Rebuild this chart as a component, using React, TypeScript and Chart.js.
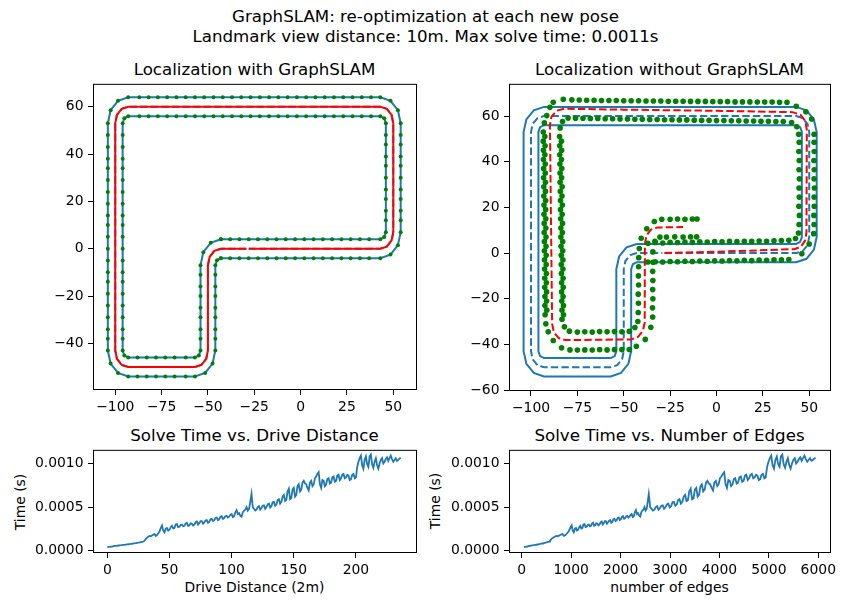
import React, { useEffect, useRef } from "react";
import { Chart, registerables } from "chart.js";
Chart.register(...registerables);

const FONT = "'DejaVu Sans', sans-serif";
const BLUE = "#1f77b4";
const RED = "#ff0000";
const GREEN = "#008000";

type P = [number, number];

// ---- Map data (true track boundaries = landmark rows) ----
const trueOuter: P[] = [
  [-43,-4],[-38,-4],[-33,-4],[-28,-4],[-23,-4],[-18,-4],[-13,-4],[-8,-4],[-3,-4],[2,-4],[7,-4],[12,-4],[17,-4],[22,-4],[27,-4],[32,-4],[37,-4],[43,-4],
  [48.5,-2.5],[52.5,1.5],[54,7],
  [54,12],[54,16],[54,21],[54,25],[54,30],[54,35],[54,39],[54,44],[54,48],[54,53],
  [52.5,58.5],[48.5,62.5],[43,64],
  [38,64],[33,64],[28,64],[23,64],[18,64],[13,64],[8,64],[3,64],[-2,64],[-7,64],[-12,64],[-17,64],[-22,64],[-27,64],[-32,64],[-37,64],[-42,64],[-47,64],[-52,64],[-57,64],[-62,64],[-67,64],[-72,64],[-77,64],[-82,64],[-87,64],[-93,64],
  [-98.5,62.5],[-102.5,58.5],[-104,53],
  [-104,48],[-104,43],[-104,38],[-104,34],[-104,29],[-104,24],[-104,19],[-104,14],[-104,10],[-104,5],[-104,0],[-104,-5],[-104,-10],[-104,-14],[-104,-19],[-104,-24],[-104,-29],[-104,-34],[-104,-38],[-104,-43],
  [-102.5,-48.5],[-98.5,-52.5],[-93,-54],
  [-88,-54],[-83,-54],[-78,-54],[-73,-54],[-68,-54],[-62,-54],[-57,-54],
  [-51.5,-52.5],[-47.5,-48.5],[-46,-43],
  [-46,-38],[-46,-34],[-46,-29],[-46,-25],[-46,-20],[-46,-16],[-46,-11],[-46,-7],
  [-45.1,-4.9],[-43,-4],
];

const trueInner: P[] = [
  [-43,4],[-38,4],[-33,4],[-28,4],[-23,4],[-18,4],[-13,4],[-8,4],[-3,4],[2,4],[7,4],[12,4],[17,4],[22,4],[27,4],[32,4],[37,4],[43,4],
  [45.1,4.9],[46,7],
  [46,12],[46,16],[46,21],[46,25],[46,30],[46,35],[46,39],[46,44],[46,48],[46,53],
  [45.1,55.1],[43,56],
  [38,56],[33,56],[28,56],[23,56],[18,56],[13,56],[8,56],[3,56],[-2,56],[-7,56],[-12,56],[-17,56],[-22,56],[-27,56],[-32,56],[-37,56],[-42,56],[-47,56],[-52,56],[-57,56],[-62,56],[-67,56],[-72,56],[-77,56],[-82,56],[-87,56],[-93,56],
  [-95.1,55.1],[-96,53],
  [-96,48],[-96,43],[-96,38],[-96,34],[-96,29],[-96,24],[-96,19],[-96,14],[-96,10],[-96,5],[-96,0],[-96,-5],[-96,-10],[-96,-14],[-96,-19],[-96,-24],[-96,-29],[-96,-34],[-96,-38],[-96,-43],
  [-95.1,-45.1],[-93,-46],
  [-88,-46],[-83,-46],[-78,-46],[-73,-46],[-68,-46],[-62,-46],[-57,-46],
  [-54.9,-45.1],[-54,-43],
  [-54,-38],[-54,-34],[-54,-29],[-54,-25],[-54,-20],[-54,-16],[-54,-11],[-54,-7],
  [-52.5,-1.5],[-48.5,2.5],[-43,4],
];

const truePath: P[] = [
  [-28,0],[43,0],[46.5,0.9],[49.1,3.5],[50,7],[50,53],[49.1,56.5],[46.5,59.1],[43,60],
  [-93,60],[-96.5,59.1],[-99.1,56.5],[-100,53],[-100,-43],[-99.1,-46.5],[-96.5,-49.1],[-93,-50],
  [-57,-50],[-53.5,-49.1],[-50.9,-46.5],[-50,-43],[-50,-7],[-49.1,-3.5],[-46.5,-0.9],[-43,0],[-29.2,0],
];

// ---- Estimate without GraphSLAM (drifting odometry) ----
const estPathNoSlam: P[] = [
  [-28,0],[0,0.6],[42,1.7],[45.5,2.8],[47.8,5.5],[48.5,9],[48.7,54],[47.9,57.8],[45.2,60.6],[41,61.7],
  [0,62.3],[-50,62.8],[-82,63.2],[-86.3,62.3],[-89,59.6],[-89.8,56],[-88.6,-31],[-87.7,-34.6],[-85.1,-37.2],[-81.5,-38.1],
  [-46,-37.8],[-42.3,-36.7],[-39.7,-34.1],[-38.7,-30.5],[-38.6,4],[-37.8,7.6],[-35.4,10.3],[-32,11.2],[-18,11.4],
];

const estLandmarksNoSlam: P[] = [
  [-37,4.3],[-33,4.6],[-29,4.4],[-25,4.7],[-21,4.6],[-17,4.8],[-13,4.7],[-9,4.9],[-5,4.8],[-1,5.0],[3,4.9],[7,5.1],[11,5.0],[15,5.2],[19,5.1],[23,5.3],[27,5.2],[31,5.4],[35,5.5],[39,5.6],
  [42.6,6.4],[44.2,8.8],
  [44.5,12.5],[44.7,16.5],[44.4,20.5],[44.6,24.5],[44.5,28.5],[44.7,32.5],[44.5,36.5],[44.6,40.5],[44.4,44.5],[44.6,48.5],[44.3,52],
  [43.3,55.3],[40.5,57.2],
  [36,57.6],[32,57.6],[28,57.7],[24,57.7],[20,57.8],[16,57.8],[12,57.9],[8,57.9],[4,58.0],[0,58.0],[-4,58.1],[-8,58.1],[-12,58.2],[-16,58.3],[-20,58.3],[-24,58.4],[-28,58.4],[-32,58.5],[-36,58.5],[-40,58.6],[-44,58.6],[-48,58.7],[-52,58.7],[-56,58.8],[-60,58.8],[-64,58.9],[-68,58.9],[-72,59.0],[-76,59.0],[-80,59.1],
  [-83,57.6],[-84.3,54.8],
  [-84.6,51],[-84.5,47],[-84.5,43],[-84.4,39],[-84.3,35],[-84.3,31],[-84.2,27],[-84.1,23],[-84.1,19],[-84.0,15],[-83.9,11],[-83.9,7],[-83.8,3],[-83.7,-1],[-83.7,-5],[-83.6,-9],[-83.5,-13],[-83.5,-17],[-83.4,-21],[-83.3,-25],[-83.3,-29],
  [-83.6,49],[-83.5,45],[-83.6,41],[-83.4,37],[-83.5,33],[-83.2,29],[-83.3,25],[-83.1,21],[-83.2,17],[-83.0,13],[-83.1,9],[-82.9,5],[-82.9,1],[-82.8,-3],[-82.8,-7],[-82.7,-11],[-82.6,-15],[-82.7,-19],[-82.5,-23],[-82.5,-27],
  [-82,-32.3],[-79.3,-34.2],
  [-75,-34.6],[-71,-34.5],[-67,-34.6],[-63,-34.4],[-59,-34.5],[-55,-34.4],[-51,-34.5],[-47,-34.3],
  [-44,-32.6],[-42.4,-30],
  [-42.2,-26],[-42.1,-22],[-42.2,-18],[-42.0,-14],[-42.1,-10],[-42.0,-6],[-41.9,-2],[-41.6,2],
  [-40.6,6.5],[-37.6,10.6],[-33.5,13.8],[-29.5,14.8],
  [-25,14.8],[-21,14.9],[-17,14.8],[-13,14.9],[-10.5,14.9],
  [-37,-3.9],[-33,-3.8],[-29,-3.9],[-25,-3.7],[-21,-3.8],[-17,-3.6],[-13,-3.7],[-9,-3.5],[-5,-3.6],[-1,-3.4],[3,-3.5],[7,-3.3],[11,-3.4],[15,-3.2],[19,-3.3],[23,-3.1],[27,-3.2],[31,-3.0],[35,-3.0],[39,-2.8],
  [46,-0.3],[50,4],
  [52.4,8.5],[52.6,12.5],[52.5,16.5],[52.7,20.5],[52.6,24.5],[52.8,28.5],[52.6,32.5],[52.7,36.5],[52.5,40.5],[52.7,44.5],[52.6,48.5],[52.6,52],
  [51.3,58.7],[48.2,61.9],[43,64.3],
  [38,66.0],[34,66.0],[30,66.1],[26,66.1],[22,66.1],[18,66.2],[14,66.2],[10,66.2],[6,66.3],[2,66.3],[-2,66.3],[-6,66.4],[-10,66.4],[-14,66.4],[-18,66.5],[-22,66.5],[-26,66.5],[-30,66.6],[-34,66.6],[-38,66.6],[-42,66.7],[-46,66.7],[-50,66.7],[-54,66.8],[-58,66.8],[-62,66.8],[-66,66.9],[-70,66.9],[-74,67.0],[-78,67.1],[-82.6,67.3],
  [-88,66],[-89.8,63.8],[-91.5,60.2],[-92.8,57],
  [-93.4,53],[-93.4,49],[-93.3,45],[-93.3,41],[-93.2,37],[-93.2,33],[-93.1,29],[-93.1,25],[-93.0,21],[-93.0,17],[-92.9,13],[-92.9,9],[-92.8,5],[-92.8,1],[-92.7,-3],[-92.7,-7],[-92.6,-11],[-92.6,-15],[-92.5,-19],[-92.5,-23],[-92.4,-27],[-92.0,-31],
  [-92.5,51],[-92.4,47],[-92.5,43],[-92.3,39],[-92.3,35],[-92.2,31],[-92.2,27],[-92.1,23],[-92.1,19],[-92.0,15],[-92.0,11],[-91.9,7],[-91.9,3],[-91.8,-1],[-91.8,-5],[-91.7,-9],[-91.7,-13],[-91.6,-17],[-91.6,-21],[-91.5,-25],
  [-90.7,-34.5],[-88,-38.3],[-83.5,-41.5],
  [-79,-42.4],[-75,-42.5],[-71,-42.4],[-67,-42.5],[-63,-42.3],[-59,-42.4],[-55,-42.3],[-51,-42.3],[-47,-42.2],
  [-43.2,-40.8],[-38.4,-37.8],[-35.4,-32.5],
  [-34.4,-28],[-34.5,-24],[-34.3,-20],[-34.4,-16],[-34.3,-12],[-34.4,-8],[-34.2,-4],
  [-34.3,0.5],[-33.2,5.2],[-30.5,7.0],
  [-27,7.0],[-22.5,7.1],[-18,7.0],[-14,7.1],[-10.7,7.1],
];

// ---- Solve time data ----
const driveDistance: number[] = [
  0,1,2,3,4,5,6,7,8,9,10,11,12,13,14,15,16,17,18,19,
  20,21,22,23,24,25,26,27,28,29,30,31,32,33,34,35,36,37,38,39,
  40,41,42,43,44,45,46,47,48,49,50,51,52,53,54,55,56,57,58,59,
  60,61,62,63,64,65,66,67,68,69,70,71,72,73,74,75,76,77,78,79,
  80,81,82,83,84,85,86,87,88,89,90,91,92,93,94,95,96,97,98,99,
  100,101,102,103,104,105,106,107,108,109,110,111,112,113,114,115,116,117,118,119,
  120,121,122,123,124,125,126,127,128,129,130,131,132,133,134,135,136,137,138,139,
  140,141,142,143,144,145,146,147,148,149,150,151,152,153,154,155,156,157,158,159,
  160,161,162,163,164,165,166,167,168,169,170,171,172,173,174,175,176,177,178,179,
  180,181,182,183,184,185,186,187,188,189,190,191,192,193,194,195,196,197,198,199,
  200,201,202,203,204,205,206,207,208,209,210,211,212,213,214,215,216,217,218,219,
  220,221,222,223,224,225,226,227,228,229,230,231,232,233,234,235,236,
];
const numEdges: number[] = [
  45,62,80,97,115,133,150,167,185,202,220,238,255,272,290,307,325,343,360,377,
  395,412,430,448,465,482,500,517,535,553,572,604,635,666,698,729,761,792,823,855,
  886,917,949,980,1011,1032,1054,1076,1098,1119,1141,1163,1184,1206,1228,1249,1271,1293,1314,1336,
  1358,1379,1401,1422,1444,1466,1488,1509,1531,1553,1574,1596,1618,1639,1661,1682,1704,1726,1748,1769,
  1791,1812,1834,1856,1878,1899,1921,1942,1964,1986,2008,2029,2051,2072,2094,2116,2138,2159,2181,2202,
  2224,2246,2268,2289,2311,2332,2354,2376,2398,2419,2441,2462,2484,2506,2528,2549,2571,2599,2627,2655,
  2684,2712,2740,2768,2797,2825,2853,2881,2910,2938,2966,2994,3023,3051,3079,3107,3136,3164,3192,3220,
  3249,3277,3305,3333,3362,3390,3418,3446,3475,3503,3531,3559,3588,3616,3644,3672,3701,3729,3757,3785,
  3814,3842,3870,3898,3927,3955,3983,4011,4040,4068,4096,4124,4152,4180,4208,4236,4264,4292,4320,4348,
  4376,4404,4432,4460,4488,4516,4544,4572,4600,4628,4656,4684,4712,4740,4768,4796,4824,4852,4880,4908,
  4936,4964,4992,5020,5048,5076,5104,5132,5160,5188,5216,5244,5272,5300,5328,5356,5384,5412,5440,5468,
  5496,5524,5552,5580,5608,5636,5664,5692,5720,5748,5776,5804,5832,5860,5888,5916,5944,
];
// solve time in microseconds
const solveTimeUs: number[] = [
  42,44,45,47,48,52,55,56,57,60,62,63,65,67,68,70,72,74,76,78,
  80,83,85,88,90,92,95,98,100,105,115,135,150,160,170,165,175,185,190,170,
  180,200,220,260,290,230,210,250,260,230,240,270,285,255,260,300,305,270,275,295,
  300,280,285,310,320,285,290,315,310,290,300,325,335,300,315,340,340,310,325,345,
  350,320,330,360,365,340,350,375,380,350,360,390,395,365,375,395,400,380,390,410,
  420,385,395,440,465,420,430,400,390,440,460,470,500,460,480,560,650,500,480,460,
  470,500,510,470,490,515,520,480,500,530,540,495,510,555,560,515,530,580,590,540,
  560,620,640,570,580,680,710,590,600,700,720,620,640,740,760,680,700,780,800,770,
  760,720,690,780,800,740,760,830,850,880,900,760,720,810,800,740,760,820,830,770,
  780,840,850,790,800,860,870,810,830,870,880,830,840,870,860,810,820,870,880,830,
  840,960,1020,1060,1090,980,940,1040,1080,990,960,1080,1100,990,950,1020,1060,980,940,1000,
  1040,1060,1000,1020,1050,1070,1030,1060,1090,1050,1020,1040,1060,1030,1040,1055,1065,
];

// ---- Tick labels ----
const mapXTicks = [-100, -75, -50, -25, 0, 25, 50];
const mapYTicks1 = [-40, -20, 0, 20, 40, 60];
const mapYTicks2 = [-60, -40, -20, 0, 20, 40, 60];
const timeTicks = [0, 0.0005, 0.001];
const distTicks = [0, 50, 100, 150, 200];
const edgeTicks = [0, 1000, 2000, 3000, 4000, 5000, 6000];

const toXY = (pts: P[]) => pts.map(([x, y]) => ({ x, y }));
const fmtNum = (v: number) => (v < 0 ? "\u2212" + Math.abs(v) : String(v));
const fmtTime = (v: number) => v.toFixed(4);

const PAD_L = 70, PAD_R = 20, PAD_T = 12, PAD_B = 40;
type Box = { x: number; y: number; w: number; h: number };

const framePlugin = {
  id: "frame",
  afterDatasetsDraw(chart: any) {
    const { ctx, chartArea: a } = chart;
    ctx.save();
    ctx.strokeStyle = "#000";
    ctx.lineWidth = 1;
    ctx.setLineDash([]);
    ctx.strokeRect(a.left + 0.5, a.top + 0.5, a.right - a.left - 1, a.bottom - a.top - 1);
    ctx.restore();
  },
};

function axis(min: number, max: number, ticks: number[], fmt: (v: number) => string, isX: boolean) {
  return {
    type: "linear",
    position: isX ? "bottom" : "left",
    min,
    max,
    afterBuildTicks: (s: any) => {
      s.ticks = ticks.map((v) => ({ value: v }));
    },
    afterFit: (s: any) => {
      if (isX) s.height = PAD_B;
      else s.width = PAD_L;
    },
    grid: { display: true, drawOnChartArea: false, drawTicks: true, tickLength: 5, color: "#000", lineWidth: 1 },
    border: { display: false },
    ticks: {
      color: "#000",
      font: { family: FONT, size: 13.9 },
      padding: 4.5,
      maxRotation: 0,
      minRotation: 0,
      autoSkip: false,
      callback: (v: any) => fmt(Number(v)),
    },
  };
}

function baseConfig(datasets: any[], x: any, y: any) {
  return {
    type: "scatter",
    data: { datasets },
    options: {
      responsive: false,
      animation: false,
      events: [],
      devicePixelRatio: 1,
      layout: { padding: { left: 0, right: PAD_R, top: PAD_T, bottom: 0 } },
      plugins: { legend: { display: false }, tooltip: { enabled: false }, title: { display: false } },
      scales: { x, y },
    },
    plugins: [framePlugin],
  };
}

const line = (pts: P[], color: string, dashed: boolean, order: number, width = 2) => ({
  data: toXY(pts),
  showLine: true,
  borderColor: color,
  backgroundColor: color,
  borderWidth: width,
  borderDash: dashed ? [7.4, 3.2] : [],
  pointRadius: 0,
  tension: 0,
  fill: false,
  order,
});

const dots = (pts: P[], color: string, r: number, order: number) => ({
  data: toXY(pts),
  showLine: false,
  pointRadius: r,
  pointBorderWidth: 0,
  pointBackgroundColor: color,
  backgroundColor: color,
  borderColor: color,
  order,
});

function ChartCanvas({ box, build }: { box: Box; build: () => any }) {
  const ref = useRef<HTMLCanvasElement | null>(null);
  useEffect(() => {
    if (!ref.current) return;
    const chart = new Chart(ref.current, build());
    return () => chart.destroy();
  }, []);
  const W = box.w + PAD_L + PAD_R;
  const H = box.h + PAD_T + PAD_B;
  return (
    <canvas
      ref={ref}
      width={W}
      height={H}
      style={{ position: "absolute", left: box.x - PAD_L, top: box.y - PAD_T, width: W, height: H }}
    />
  );
}

function HText({ cx, by, size, children }: any) {
  return (
    <div
      style={{
        position: "absolute", left: cx, top: by - 0.846 * size, transform: "translateX(-50%)",
        whiteSpace: "nowrap", fontSize: size, lineHeight: 1, fontFamily: FONT, color: "#000",
      }}
    >
      {children}
    </div>
  );
}

function VText({ bx, cy, size, children }: any) {
  return (
    <div style={{ position: "absolute", left: bx - 0.846 * size, top: cy, width: 0, height: 0 }}>
      <div
        style={{
          position: "absolute", left: 0, top: 0, whiteSpace: "nowrap", fontSize: size, lineHeight: 1,
          fontFamily: FONT, color: "#000", transformOrigin: "0 0", transform: "rotate(-90deg) translateX(-50%)",
        }}
      >
        {children}
      </div>
    </div>
  );
}

const box1: Box = { x: 93, y: 83, w: 324, h: 307 };
const box2: Box = { x: 509, y: 83, w: 322, h: 308 };
const box3: Box = { x: 93, y: 449, w: 324, h: 104 };
const box4: Box = { x: 509, y: 449, w: 322, h: 104 };

const buildMap1 = () =>
  baseConfig(
    [
      dots(trueOuter.concat(trueInner), GREEN, 2, 0),
      line(truePath, RED, false, 1),
      line(trueOuter, BLUE, false, 2),
      line(trueInner, BLUE, false, 2),
      line(truePath, BLUE, true, 3),
    ],
    axis(-112.0, 62.8, mapXTicks, fmtNum, true),
    axis(-59.7, 69.66, mapYTicks1, fmtNum, false)
  );

const buildMap2 = () =>
  baseConfig(
    [
      dots(estLandmarksNoSlam, GREEN, 2.8, 0),
      line(estPathNoSlam, RED, true, 1),
      line(trueOuter, BLUE, false, 2),
      line(trueInner, BLUE, false, 2),
      line(truePath, BLUE, true, 2),
    ],
    axis(-111.86, 61.73, mapXTicks, fmtNum, true),
    axis(-60.4, 74.1, mapYTicks2, fmtNum, false)
  );

const timeSeries = (xs: number[]) =>
  xs.map((x, i) => ({ x, y: solveTimeUs[i] / 1e6 }));

const buildTimeDist = () =>
  baseConfig(
    [{ data: timeSeries(driveDistance), showLine: true, borderColor: BLUE, borderWidth: 1.8, pointRadius: 0, tension: 0, fill: false }],
    axis(-11.5, 249.1, distTicks, fmtNum, true),
    axis(-0.0000261, 0.0011557, timeTicks, fmtTime, false)
  );

const buildTimeEdges = () =>
  baseConfig(
    [{ data: timeSeries(numEdges), showLine: true, borderColor: BLUE, borderWidth: 1.8, pointRadius: 0, tension: 0, fill: false }],
    axis(-257, 6257, edgeTicks, fmtNum, true),
    axis(-0.0000261, 0.0011557, timeTicks, fmtTime, false)
  );

export default function App() {
  return (
    <div
      style={{
        position: "fixed", left: 0, top: 0, width: 851, height: 610, background: "#fff",
        overflow: "hidden", fontFamily: FONT,
      }}
    >
      <HText cx={425.5} by={23.5} size={16.67}>GraphSLAM: re-optimization at each new pose</HText>
      <HText cx={425.5} by={43.5} size={16.67}>Landmark view distance: 10m. Max solve time: 0.0011s</HText>
      <HText cx={254.5} by={75.7} size={16.67}>Localization with GraphSLAM</HText>
      <HText cx={669.5} by={75.7} size={16.67}>Localization without GraphSLAM</HText>
      <HText cx={254.5} by={441.7} size={16.67}>Solve Time vs. Drive Distance</HText>
      <HText cx={669.5} by={441.7} size={16.67}>Solve Time vs. Number of Edges</HText>
      <HText cx={254.5} by={592.7} size={13.9}>Drive Distance (2m)</HText>
      <HText cx={669.5} by={592.5} size={13.9}>number of edges</HText>
      <VText bx={26.1} cy={501.5} size={13.9}>Time (s)</VText>
      <VText bx={441.1} cy={501} size={13.9}>Time (s)</VText>
      <ChartCanvas box={box1} build={buildMap1} />
      <ChartCanvas box={box2} build={buildMap2} />
      <ChartCanvas box={box3} build={buildTimeDist} />
      <ChartCanvas box={box4} build={buildTimeEdges} />
    </div>
  );
}
